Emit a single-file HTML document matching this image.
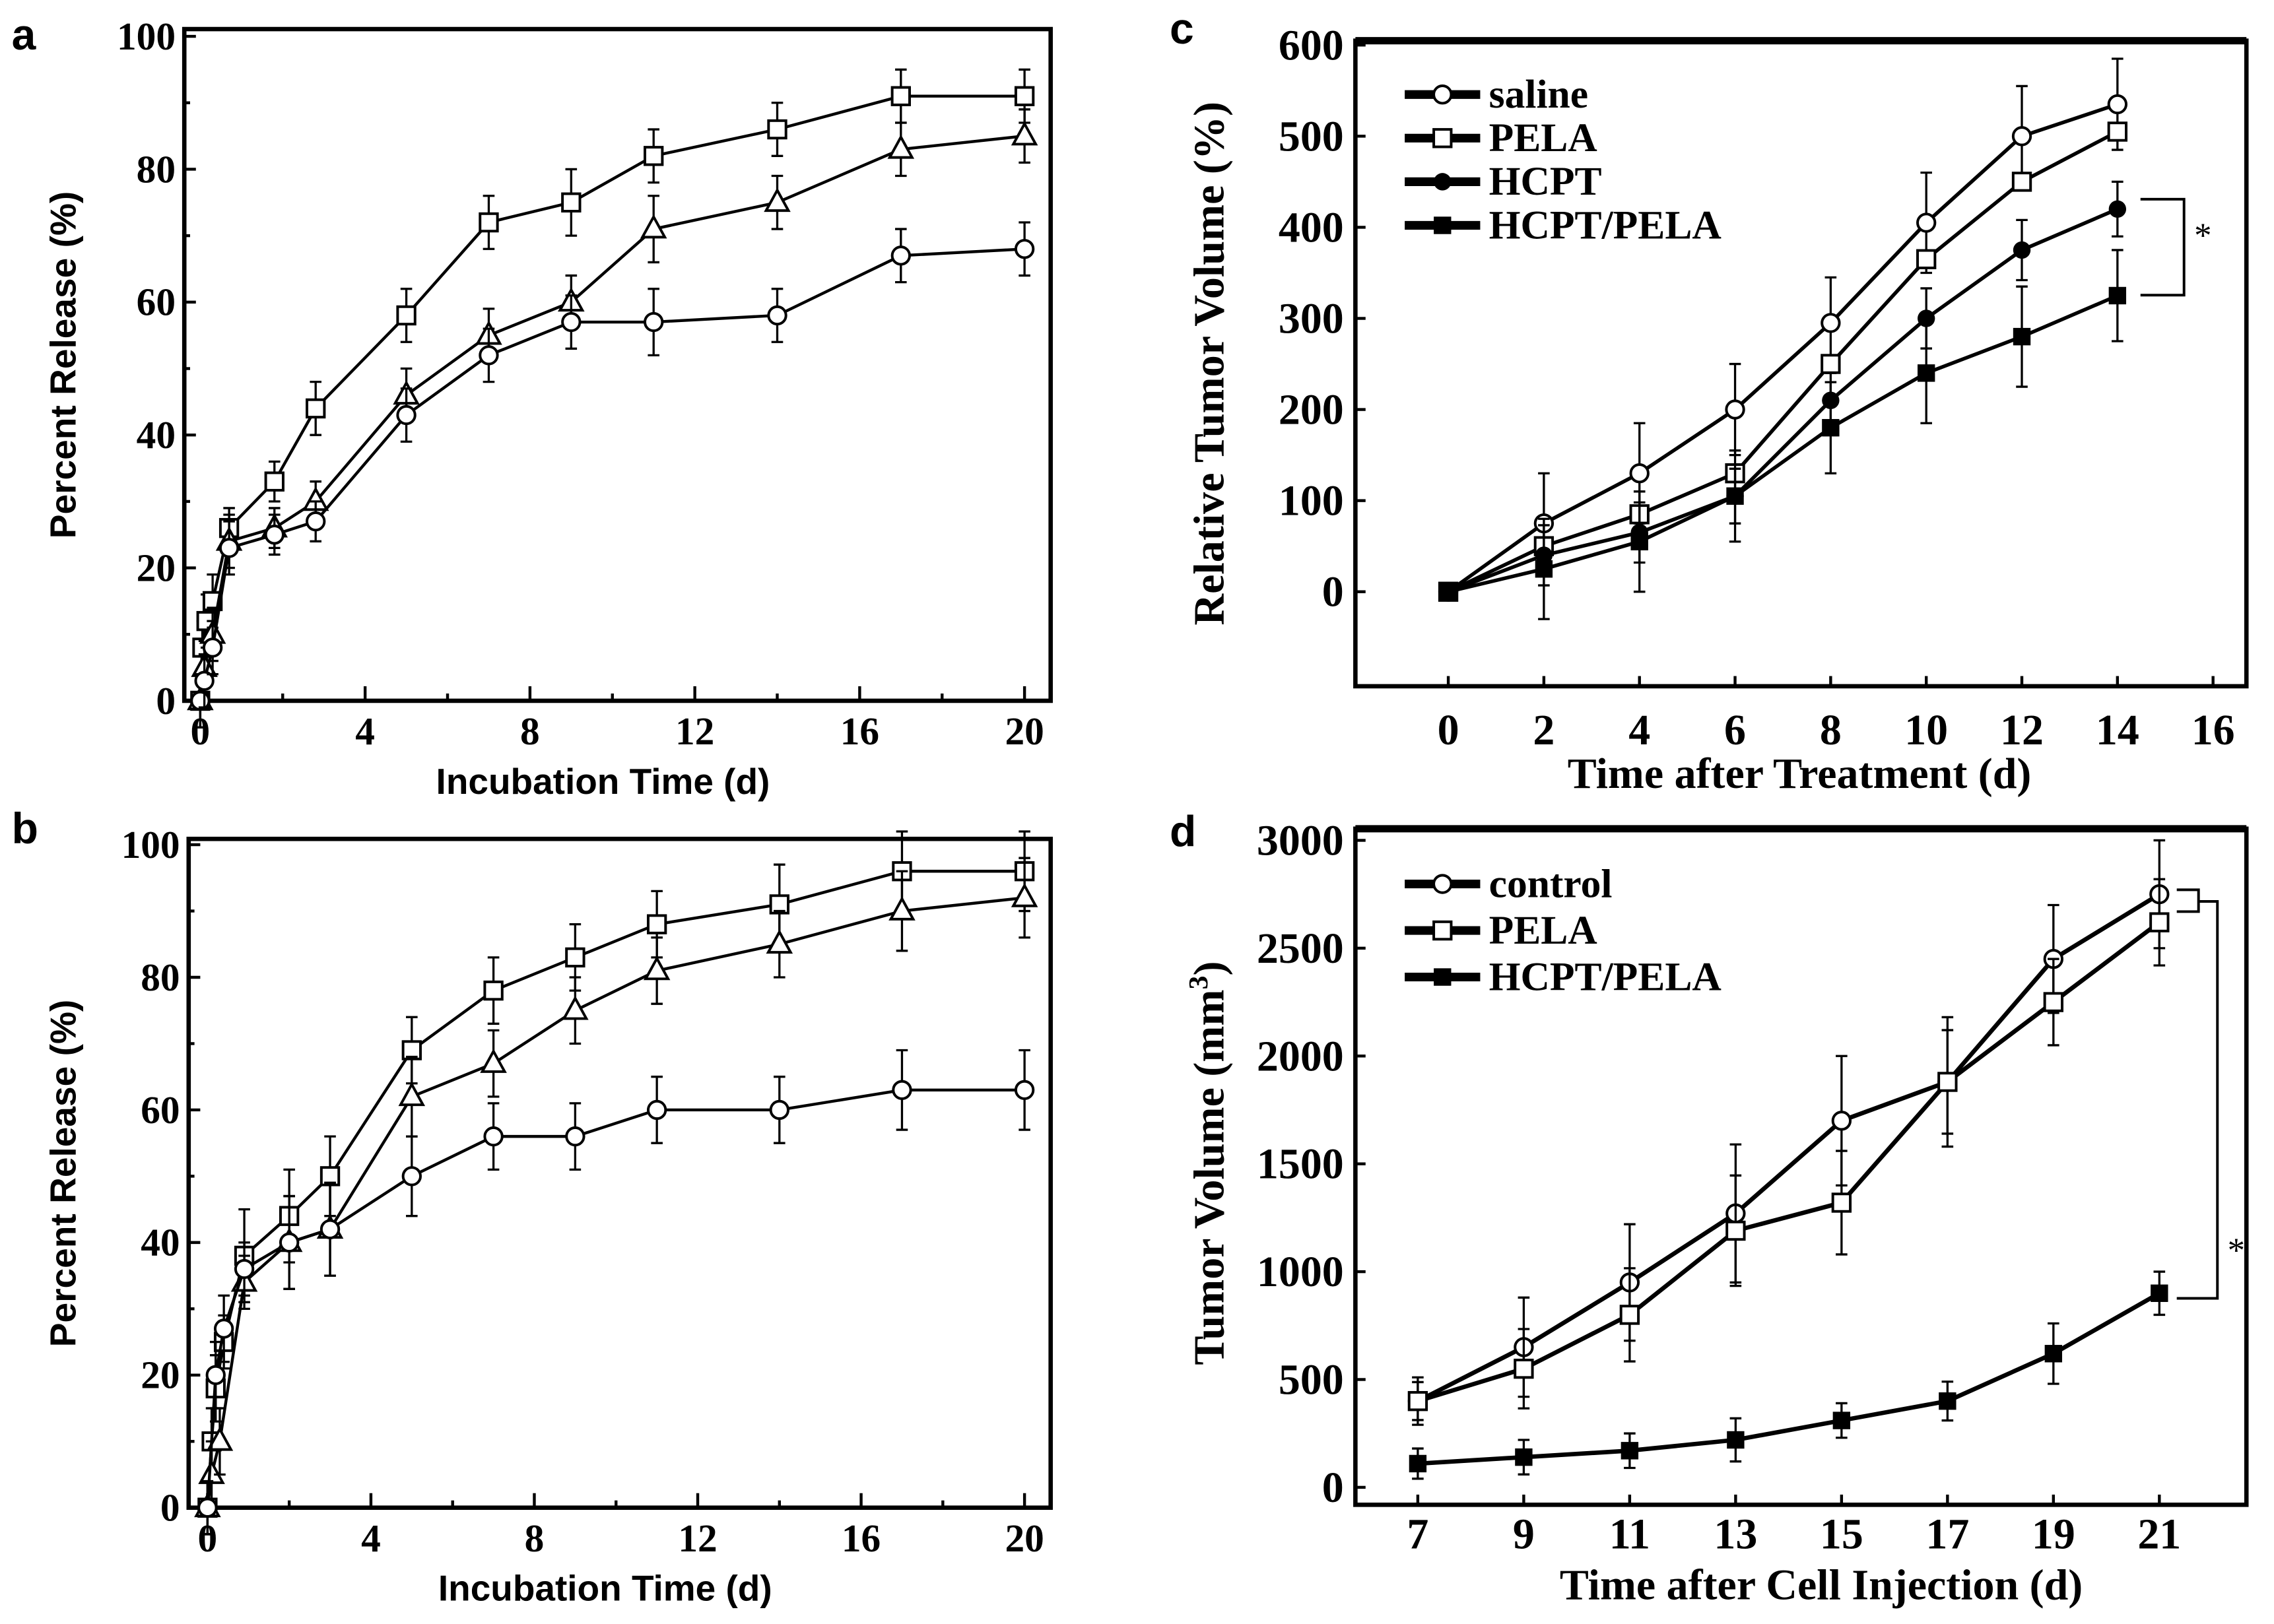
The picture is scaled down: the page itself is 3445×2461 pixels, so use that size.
<!DOCTYPE html>
<html><head><meta charset="utf-8"><style>
html,body{margin:0;padding:0;background:#fff;}
svg{display:block;}
</style></head><body>
<svg id="fig" width="3445" height="2461" viewBox="0 0 1567 1117" preserveAspectRatio="none" xmlns="http://www.w3.org/2000/svg"></svg>
<script>
// ---- Panel a data ----
const aX_sq = [0,0.05,0.15,0.3,0.7,1.8,2.8,5,7,9,11,14,17,20];
const aY_sq = [0,8,12,15,26,33,44,58,72,75,82,86,91,91];
const aX_tri = [0,0.1,0.3,0.7,1.8,2.8,5,7,9,11,14,17,20];
const aY_tri = [0,5,10,24,26,30,46,55,60,71,75,83,85];
const aX_cir = [0,0.1,0.3,0.7,1.8,2.8,5,7,9,11,14,17,20];
const aY_cir = [0,3,8,23,25,27,43,52,57,57,58,67,68];
const aErr = [4,4,4,4,3,3,4,4,4,5,4,4,4,4];
// ---- Panel b data ----
const bX_sq = [0,0.1,0.2,0.4,0.9,2,3,5,7,9,11,14,17,20];
const bY_sq = [0,10,18,25,38,44,50,69,78,83,88,91,96,96];
const bX_tri = [0,0.1,0.3,0.9,2,3,5,7,9,11,14,17,20];
const bY_tri = [0,5,10,34,40,42,62,67,75,81,85,90,92];
const bX_cir = [0,0.2,0.4,0.9,2,3,5,7,9,11,14,17,20];
const bY_cir = [0,20,27,36,40,42,50,56,56,60,60,63,63];
const bErr = [4,5,5,4,7,7,6,5,5,5,5,6,6,6];
const abTicks = [0,4,8,12,16,20];
const abYTicks = [0,20,40,60,80,100];
// ---- Panel c data ----
const cDays = [0,2,4,6,8,10,12,14];
const cSaline = [0,75,130,200,295,405,500,535];
const cPELA = [0,50,85,130,250,365,450,505];
const cHCPT = [0,40,65,105,210,300,375,420];
const cHP = [0,25,55,105,180,240,280,325];
const cErr = [0,55,55,50,50,55,55,50];
const cXTicks = [0,2,4,6,8,10,12,14,16];
const cYTicks = [0,100,200,300,400,500,600];
// ---- Panel d data ----
const dDays = [7,9,11,13,15,17,19,21];
const dControl = [400,650,950,1270,1700,1880,2450,2750];
const dPELA = [400,550,800,1190,1320,1880,2250,2620];
const dHP = [110,140,170,220,310,400,620,900];
const dErrBig = [110,230,270,320,300,300,250,250];
const dErrSmall = [70,80,80,100,80,90,140,100];
const dYTicks = [0,500,1000,1500,2000,2500,3000];

const NS='http://www.w3.org/2000/svg';
const svg=document.getElementById('fig');
function mk(tag,attrs,parent){const e=document.createElementNS(NS,tag);for(const k in attrs)e.setAttribute(k,attrs[k]);(parent||svg).appendChild(e);return e;}
function txt(s,attrs,parent){const e=mk('text',attrs,parent);e.textContent=s;return e;}
function lin(d0,d1,r0,r1){return v=>r0+(v-d0)*(r1-r0)/(d1-d0);}

function marker(g,type,x,y,sz){
  let e;
  if(type==='circle'){e=mk('circle',{cx:x,cy:y,r:sz,fill:'#fff',stroke:'#000','stroke-width':1.8},g);}
  else if(type==='square'){e=mk('rect',{x:x-sz,y:y-sz,width:2*sz,height:2*sz,fill:'#fff',stroke:'#000','stroke-width':1.8},g);}
  else if(type==='tri'){e=mk('polygon',{points:`${x},${y-sz*1.2} ${x-sz*1.1},${y+sz*0.8} ${x+sz*1.1},${y+sz*0.8}`,fill:'#fff',stroke:'#000','stroke-width':1.8},g);}
  else if(type==='dfill'){e=mk('circle',{cx:x,cy:y,r:sz,fill:'#000'},g);}
  else {e=mk('rect',{x:x-sz,y:y-sz,width:2*sz,height:2*sz,fill:'#000'},g);}
  
  
}
function series(g,name,xs,ys,sx,sy,type,errs,lw,sz){
  const sg=mk('g',{},g);
  
  
  const pts=xs.map((x,i)=>sx(x)+','+sy(ys[i])).join(' ');
  mk('polyline',{points:pts,fill:'none',stroke:'#000','stroke-width':lw},sg);
  xs.forEach((x,i)=>{
    const e=errs?errs[i]:0;
    if(e>0){const X=sx(x);const y1=sy(ys[i]+e),y2=sy(ys[i]-e);
      mk('line',{x1:X,y1:y1,x2:X,y2:y2,stroke:'#000','stroke-width':1.5},sg);
      mk('line',{x1:X-4,y1:y1,x2:X+4,y2:y1,stroke:'#000','stroke-width':1.5},sg);
      mk('line',{x1:X-4,y1:y2,x2:X+4,y2:y2,stroke:'#000','stroke-width':1.5},sg);}
    marker(sg,type,sx(x),sy(ys[i]),sz);
  });
}
function box(g,l,t,r,b,lw){const e=mk('rect',{x:l,y:t,width:r-l,height:b-t,fill:'none',stroke:'#000','stroke-width':lw},g);}
const serif='"Liberation Serif", serif', sans='"Liberation Sans", sans-serif';

function panelAB(letter,L,T,R,B,x0,x20,y0,y100,X1,Y1,X2,Y2,X3,Y3,errs,letterY){
  const g=mk('g',{});
  
  
  const sx=lin(0,20,x0,x20), sy=lin(0,100,y0,y100);
  box(g,L,T,R,B,3);
  const lt=txt(letter,{x:8,y:letterY,'font-family':sans,'font-weight':'bold','font-size':30},g);
  
  for(let v=0;v<=22;v+=2){const X=sx(v);if(X<R)mk('line',{x1:X,y1:B,x2:X,y2:B-(v%4===0?10:5),stroke:'#000','stroke-width':2},g);}
  for(let v=0;v<=100;v+=10){mk('line',{x1:L,y1:sy(v),x2:L+(v%20===0?8:4),y2:sy(v),stroke:'#000','stroke-width':2},g);}
  abTicks.forEach(v=>{const t=txt(String(v),{x:sx(v),y:B+30,'text-anchor':'middle','font-family':serif,'font-weight':'bold','font-size':27},g);});
  abYTicks.forEach(v=>{const t=txt(String(v),{x:L-6,y:sy(v)+9,'text-anchor':'end','font-family':serif,'font-weight':'bold','font-size':27},g);});
  const xt=txt('Incubation Time (d)',{x:(L+R)/2-10,y:B+64,'text-anchor':'middle','font-family':sans,'font-weight':'bold','font-size':25},g);
  
  const yt=txt('Percent Release (%)',{x:0,y:0,'text-anchor':'middle','font-family':sans,'font-weight':'bold','font-size':25,transform:`translate(52,${(T+B)/2}) rotate(-90)`},g);
  
  series(g,'series-square',X1,Y1,sx,sy,'square',errs,2,6);
  series(g,'series-triangle',X2,Y2,sx,sy,'tri',errs,2,7);
  series(g,'series-circle',X3,Y3,sx,sy,'circle',errs,2,6);
}
panelAB('a',127,20,724,482,138,706,482,25,aX_sq,aY_sq,aX_tri,aY_tri,aX_cir,aY_cir,aErr,34);
panelAB('b',130,577,724,1037,143,706,1037,581,bX_sq,bY_sq,bX_tri,bY_tri,bX_cir,bY_cir,bErr,580);

function legend(g,items,x,y0,dy){
  items.forEach((it,i)=>{const y=y0+i*dy;const lg=mk('g',{},g);
    
    mk('line',{x1:x,y1:y,x2:x+52,y2:y,stroke:'#000','stroke-width':6},lg);
    marker(lg,it[1],x+26,y,6);
    txt(it[0],{x:x+58,y:y+9,'font-family':serif,'font-weight':'bold','font-size':28},lg);});
}
// Panel c
(function(){
  const g=mk('g',{});
  const L=934,T=28,R=1548,B=472;const sx=lin(0,16,998,1525), sy=lin(0,600,407,31);
  box(g,L,T,R,B,3);mk('line',{x1:L,y1:T,x2:R,y2:T,stroke:'#000','stroke-width':5},g);
  const lt=txt('c',{x:806,y:30,'font-family':sans,'font-weight':'bold','font-size':30},g);
  cXTicks.forEach(v=>{mk('line',{x1:sx(v),y1:B,x2:sx(v),y2:B-7,stroke:'#000','stroke-width':2},g);
    const t=txt(String(v),{x:sx(v),y:B+40,'text-anchor':'middle','font-family':serif,'font-weight':'bold','font-size':30},g);});
  cYTicks.forEach(v=>{mk('line',{x1:L,y1:sy(v),x2:L+7,y2:sy(v),stroke:'#000','stroke-width':2},g);
    const t=txt(String(v),{x:L-8,y:sy(v)+10,'text-anchor':'end','font-family':serif,'font-weight':'bold','font-size':30},g);});
  const xt=txt('Time after Treatment (d)',{x:1240,y:542,'text-anchor':'middle','font-family':serif,'font-weight':'bold','font-size':30},g);
  const yt=txt('Relative Tumor Volume (%)',{x:0,y:0,'text-anchor':'middle','font-family':serif,'font-weight':'bold','font-size':30,transform:'translate(843,250) rotate(-90)'},g);
  series(g,'series-saline',cDays,cSaline,sx,sy,'circle',cErr,2.5,6);
  series(g,'series-pela',cDays,cPELA,sx,sy,'square',null,2.5,6);
  series(g,'series-hcpt',cDays,cHCPT,sx,sy,'dfill',cErr.map(e=>e*0.6),2.5,6);
  series(g,'series-hcpt-pela',cDays,cHP,sx,sy,'sfill',cErr,2.5,6);
  legend(g,[['saline','circle'],['PELA','square'],['HCPT','dfill'],['HCPT/PELA','sfill']],968,65,30);
  const br=mk('polyline',{points:'1475,137 1505,137 1505,203 1475,203',fill:'none',stroke:'#000','stroke-width':1.8},g);
  txt('*',{x:1512,y:170,'font-family':serif,'font-size':24},g);
})();
// Panel d
(function(){
  const g=mk('g',{});
  const L=934,T=570,R=1548,B=1035;const sx=lin(7,21,977,1488), sy=lin(0,3000,1023,578);
  box(g,L,T,R,B,3);mk('line',{x1:L,y1:T,x2:R,y2:T,stroke:'#000','stroke-width':5},g);
  const lt=txt('d',{x:806,y:582,'font-family':sans,'font-weight':'bold','font-size':30},g);
  dDays.forEach(v=>{mk('line',{x1:sx(v),y1:B,x2:sx(v),y2:B-7,stroke:'#000','stroke-width':2},g);
    const t=txt(String(v),{x:sx(v),y:B+30,'text-anchor':'middle','font-family':serif,'font-weight':'bold','font-size':30},g);});
  dYTicks.forEach(v=>{mk('line',{x1:L,y1:sy(v),x2:L+7,y2:sy(v),stroke:'#000','stroke-width':2},g);
    const t=txt(String(v),{x:L-8,y:sy(v)+10,'text-anchor':'end','font-family':serif,'font-weight':'bold','font-size':30},g);});
  const xt=txt('Time after Cell Injection  (d)',{x:1255,y:1100,'text-anchor':'middle','font-family':serif,'font-weight':'bold','font-size':30},g);
  const yt=mk('text',{x:0,y:0,'text-anchor':'middle','font-family':serif,'font-weight':'bold','font-size':30,transform:'translate(843,800) rotate(-90)'},g);
  
  yt.textContent='Tumor Volume (mm';const sup=mk('tspan',{'font-size':19,dy:-11},yt);sup.textContent='3';const cl=mk('tspan',{dy:11},yt);cl.textContent=')';
  series(g,'series-control',dDays,dControl,sx,sy,'circle',dErrBig,3,6);
  series(g,'series-pela',dDays,dPELA,sx,sy,'square',dErrBig.map(e=>e*0.8),3,6);
  series(g,'series-hcpt-pela',dDays,dHP,sx,sy,'sfill',dErrSmall,3,6);
  legend(g,[['control','circle'],['PELA','square'],['HCPT/PELA','sfill']],968,608,32);
  const b1=mk('polyline',{points:'1500,612 1515,612 1515,627 1500,627',fill:'none',stroke:'#000','stroke-width':1.8},g);
  const br=mk('polyline',{points:'1515,620 1528,620 1528,893 1500,893',fill:'none',stroke:'#000','stroke-width':1.8},g);
  txt('*',{x:1535,y:868,'font-family':serif,'font-size':24},g);
})();
</script>
</body></html>
